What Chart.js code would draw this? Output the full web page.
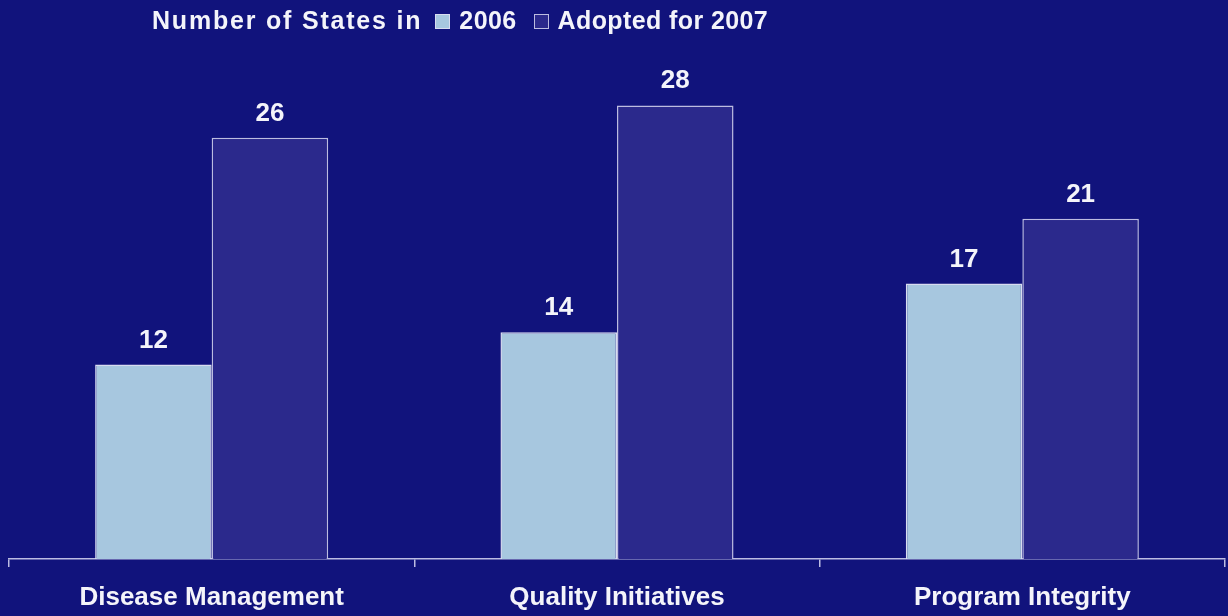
<!DOCTYPE html>
<html>
<head>
<meta charset="utf-8">
<script src="https://cdn.jsdelivr.net/npm/chart.js@4/dist/chart.umd.min.js"></script>
<style>
  html, body { margin: 0; padding: 0; background: #11137c; }
  #wrap { position: relative; width: 1228px; height: 616px; }
  #legend {
    position: absolute; left: 152px; top: 6px; line-height: 30px;
    font: bold 25px "Liberation Sans", Arial, sans-serif; color: #f4f4fa;
    display: flex; align-items: center; white-space: nowrap;
  }
  #legend .title { letter-spacing: 1.8px; }
  #legend .item { display: inline-flex; align-items: center; margin-left: 13px; letter-spacing: 0.4px; }
  #legend .item + .item { margin-left: 17px; }
  #legend .box { display: inline-block; width: 15px; height: 15px; box-sizing: border-box;
    border: 1.5px solid #c8c8e6; margin: 2px 9px 0 0; }
</style>
</head>
<body>
<div id="wrap">
  <canvas id="chart" width="1228" height="616"></canvas>
  <div id="legend"></div>
</div>
<script>
const categories = ['Disease Management', 'Quality Initiatives', 'Program Integrity'];
const states2006 = [12, 14, 17];
const adopted2007 = [26, 28, 21];
const seriesNames = ['2006', 'Adopted for 2007'];
const legendTitle = 'Number of States in';

const FONT = '"Liberation Sans", Arial, sans-serif';

// value labels drawn above each bar
const barValues = {
  id: 'barValues',
  afterDatasetsDraw(chart) {
    const ctx = chart.ctx;
    ctx.save();
    ctx.font = 'bold 26px ' + FONT;
    ctx.fillStyle = '#f4f4fa';
    ctx.textAlign = 'center';
    ctx.textBaseline = 'alphabetic';
    chart.data.datasets.forEach((ds, i) => {
      chart.getDatasetMeta(i).data.forEach((bar, j) => {
        ctx.fillText(ds.data[j], bar.x, bar.y - 17);
      });
    });
    ctx.restore();
  }
};

const chart = new Chart(document.getElementById('chart'), {
  type: 'bar',
  data: {
    labels: categories,
    datasets: [{
      label: seriesNames[0],
      data: states2006,
      backgroundColor: '#a7c7df',
      borderColor: '#d8dcf0',
      borderWidth: 1.5
    }, {
      label: seriesNames[1],
      data: adopted2007,
      backgroundColor: '#2b298c',
      borderColor: '#bcbce0',
      borderWidth: 1.5
    }]
  },
  options: {
    responsive: false,
    animation: false,
    layout: { padding: { left: 9, right: 3, top: 73, bottom: 0 } },
    plugins: { legend: { display: false }, tooltip: { enabled: false } },
    datasets: { bar: { barPercentage: 1, categoryPercentage: 0.575 } },
    scales: {
      x: {
        afterFit(scale) { scale.height = 57; },
        grid: { offset: true, drawOnChartArea: false, tickLength: 8, color: '#bcbce2', lineWidth: 1.5 },
        border: { display: true, color: '#bcbce2', width: 1.5 },
        ticks: { color: '#f4f4fa', padding: 15, font: { family: FONT, size: 26, weight: 'bold' } }
      },
      y: { display: false, min: 0, max: 30 }
    }
  },
  plugins: [barValues]
});

// inline legend: title followed by a swatch per series
const legend = document.getElementById('legend');
const title = document.createElement('span');
title.className = 'title';
title.textContent = legendTitle;
legend.appendChild(title);
chart.data.datasets.forEach(ds => {
  const item = document.createElement('span');
  item.className = 'item';
  const box = document.createElement('span');
  box.className = 'box';
  box.style.background = ds.backgroundColor;
  box.style.borderColor = ds.borderColor;
  item.appendChild(box);
  item.appendChild(document.createTextNode(ds.label));
  legend.appendChild(item);
});
</script>
</body>
</html>
